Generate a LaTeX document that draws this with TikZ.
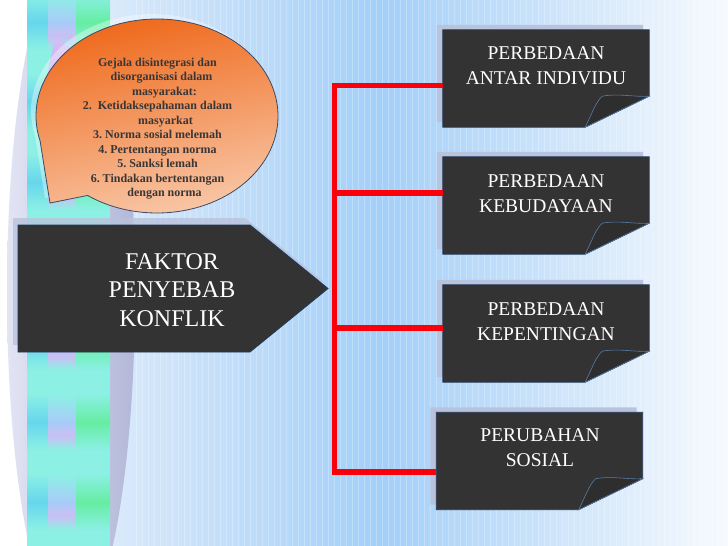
\documentclass[tikz,border=0pt]{standalone}
\usepackage{fontspec}
\setmainfont{Liberation Serif}
\usetikzlibrary{calc}
\definecolor{bgA}{HTML}{DCEBFB}
\definecolor{bgB}{HTML}{A3CFF8}
\definecolor{bgC}{HTML}{F7FAFE}
\definecolor{barL}{HTML}{E2E4F4}
\definecolor{barR}{HTML}{B3B8D8}
\definecolor{aquaT}{HTML}{8CF0E4}
\definecolor{cyanT}{HTML}{66D6EC}
\definecolor{bluT}{HTML}{A8CCF8}
\definecolor{lavT}{HTML}{C9BFF3}
\definecolor{greenT}{HTML}{66EDA2}
\definecolor{boxfill}{HTML}{333333}
\definecolor{boxedge}{HTML}{22385A}
\definecolor{flapedge}{HTML}{5A7CA6}
\definecolor{shadowcol}{HTML}{B9C3DC}
\definecolor{orA}{HTML}{EE6414}
\definecolor{orB}{HTML}{F27A32}
\definecolor{orC}{HTML}{F9CDB0}
\definecolor{bubedge}{HTML}{3C4A64}
\definecolor{bubtext}{HTML}{3A3636}
\definecolor{purT}{HTML}{C3A6F2}
\newcommand{\foldcard}[1]{%
 \fill[shadowc] ($(#1.north west)+(-6,-5)$) -- ($(#1.north east)+(-6,-5)$) -- ($(#1.south east)+(-6,-36)$) -- ($(#1.south east)+(-70,-5)$) -- ($(#1.south west)+(-6,-5)$) -- cycle;
 \path[boxshape] (#1.north west) -- (#1.north east) -- ($(#1.south east)+(0,-31)$) -- ($(#1.south east)+(-64,0)$) -- (#1.south west) -- cycle;
 \path[flap] ($(#1.south east)+(-64,0)$) .. controls ($(#1.south east)+(-58,-12)$) and ($(#1.south east)+(-53,-26)$) .. ($(#1.south east)+(-47,-31)$) .. controls ($(#1.south east)+(-30,-34)$) and ($(#1.south east)+(-15,-30)$) .. ($(#1.south east)+(0,-31)$) -- cycle;
}
\tikzset{
 redline/.style={draw={rgb,255:red,250;green,0;blue,10}, line width=5.5pt, line join=miter},
 boxshape/.style={fill=boxfill, draw=boxedge, line width=0.8pt},
 shadowc/.style={fill=shadowcol},
 flap/.style={fill=boxfill!90!black, draw=flapedge, line width=0.6pt},
 cardnode/.style={minimum width=206pt, minimum height=97pt, inner sep=0pt, draw=none},
 boxtext/.style={text=white, align=center, inner sep=0pt, font=\fontsize{19.5}{25}\selectfont},
 bigtext/.style={text=white, align=center, inner sep=0pt, font=\fontsize{24}{28.5}\selectfont},
 bubtxt/.style={text=bubtext, align=center, inner sep=0pt, font=\fontsize{12}{14.5}\selectfont\bfseries},
}
\begin{document}
\begin{tikzpicture}[x=1pt,y=-1pt]
\useasboundingbox (0,0) rectangle (728,546);
% background
\fill[white] (0,0) rectangle (728,546);
\shade[left color=bgA, right color=bgB] (100,0) rectangle (380,546);
\shade[left color=bgB, right color=bgC] (380,0) rectangle (728,546);
\foreach \x in {136,142,...,728} \draw[white, opacity=.25, line width=.8pt] (\x,0) -- (\x,546);
% left bar
\shade[left color=barL, right color=barR] (71,292) ellipse[x radius=64, y radius=335];
% tile strip
\fill[aquaT] (27,0) rectangle (110,546);
\foreach \c in {22,102,182,262,342,422,502}{
 \shade[top color=aquaT, bottom color=aquaT, middle color=cyanT] (27,\c-28) rectangle (48,\c+28);
 \shade[top color=aquaT, bottom color=bluT] (48,\c-28) rectangle (76,\c);
 \shade[top color=bluT, bottom color=aquaT, middle color=lavT] (48,\c) rectangle (76,\c+28);
 \shade[top color=aquaT, bottom color=aquaT, middle color=greenT] (76,\c-28) rectangle (110,\c+28);
}
% purple triangle
\shade[top color=purT!70, bottom color=purT] (55,37) -- (44,90) -- (85,58) -- cycle;
% bubble halo
\begin{scope}[shift={(-5,-5)}]
\fill[white, opacity=.35] (157,116) ++(125:121 and 97) arc[start angle=125, end angle=-195, x radius=121, y radius=97] -- (50,203) -- cycle;
\end{scope}
% bubble
\shadedraw[top color=orA, middle color=orB, bottom color=orC, shading angle=12, draw=bubedge, line width=.8pt]
 (157,116) ++(125:121 and 97) arc[start angle=125, end angle=-195, x radius=121, y radius=97] -- (50,203) -- cycle;
\node[bubtxt] (bub) at (157.5,128.5) {Gejala disintegrasi dan\\
\hspace*{8pt}disorganisasi dalam\\
\hspace*{14pt}masyarakat:\\
2.\ \ Ketidaksepahaman dalam\\
\hspace*{16pt}masyarkat\\
3.\ Norma sosial melemah\\
4.\ Pertentangan norma\\
5.\ Sanksi lemah\\
6.\ Tindakan bertentangan\\
\hspace*{14pt}dengan norma};
% faktor arrow
\fill[shadowc, opacity=.8] (13,218) -- (245,218) -- (323,281) -- (245,345) -- (13,345) -- cycle;
\path[boxshape] (18,225) -- (250,225) -- (328,288.5) -- (250,352) -- (18,352) -- cycle;
\node[bigtext] (faktor) at (172,290) {FAKTOR\\PENYEBAB\\KONFLIK};
% cards
\node[cardnode] (b1) at (546,78.5) {};
\node[cardnode] (b2) at (546,205.5) {};
\node[cardnode] (b3) at (546,333.5) {};
\node[cardnode] (b4) at (539.5,461) {};
\foldcard{b1}
\foldcard{b2}
\foldcard{b3}
\foldcard{b4}
\node[boxtext] (t1) at (546,66) {PERBEDAAN\\ANTAR INDIVIDU};
\node[boxtext] (t2) at (546,193.5) {PERBEDAAN\\KEBUDAYAAN};
\node[boxtext] (t3) at (546,321.5) {PERBEDAAN\\KEPENTINGAN};
\node[boxtext] (t4) at (540,447.5) {PERUBAHAN\\SOSIAL};
% red connectors
\coordinate (s1) at (334.5,85.5);
\coordinate (s2) at (334.5,193);
\coordinate (s3) at (334.5,328);
\coordinate (s4) at (334.5,472);
\draw[redline] (s1 -| b1.west) -- (s1) -- (s4) -- (s4 -| b4.west);
\draw[redline] (s2) -- (s2 -| b2.west);
\draw[redline] (s3) -- (s3 -| b3.west);
\end{tikzpicture}
\end{document}
